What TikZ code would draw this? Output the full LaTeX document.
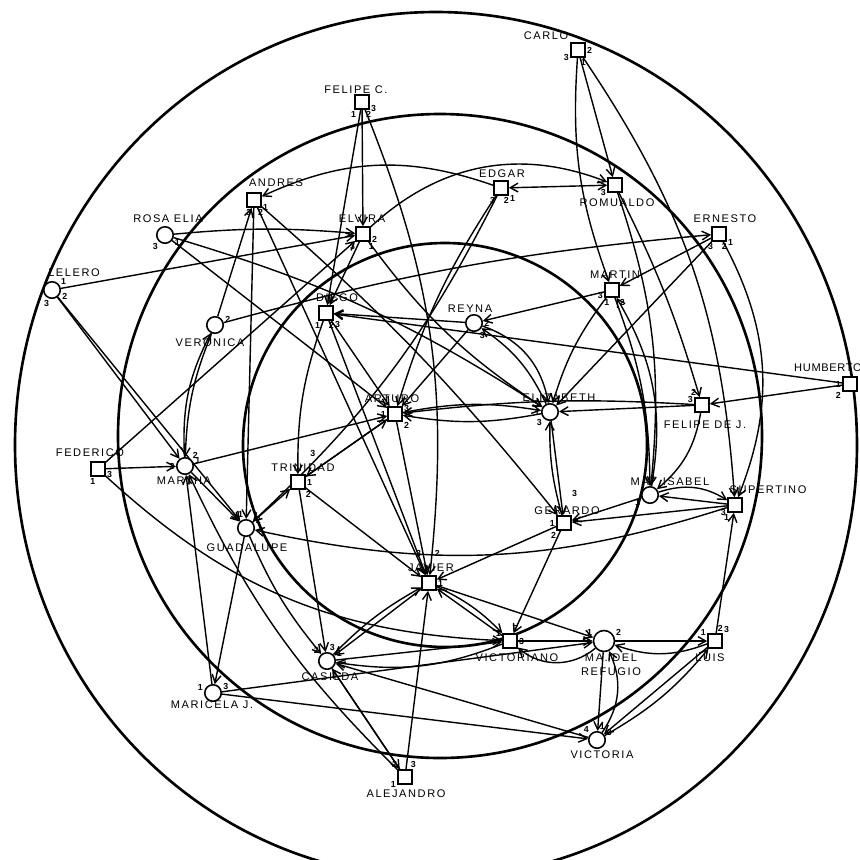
\documentclass[tikz,border=0pt]{standalone}
\usepackage{fontspec}
\newfontfamily\hand[LetterSpace=14]{Liberation Sans}
\newfontfamily\handtight[LetterSpace=6]{Liberation Sans}
\usetikzlibrary{arrows.meta,backgrounds}
\newcommand{\labfont}{\hand\fontsize{6.3}{7}\selectfont}
\newcommand{\numfont}{\hand\bfseries\fontsize{5}{5}\selectfont}
\tikzset{
  sq/.style={draw, line width=0.9pt, rectangle, minimum size=0.28cm, inner sep=0pt, fill=white},
  ci/.style={draw, line width=0.9pt, circle, minimum size=0.33cm, inner sep=0pt, fill=white},
  lab/.style={font=\labfont, inner sep=0pt, align=center},
  num/.style={font=\numfont, inner sep=0.6pt},
  ed/.style={line width=0.8pt, -{Straight Barb[length=4.5pt,width=5pt]}},
  ring/.style={line width=1.5pt},
}
\begin{document}
\begin{tikzpicture}[x=0.02cm,y=-0.02cm,label distance=0pt]
\useasboundingbox (0,0) rectangle (860,860);
\clip (0,0) rectangle (860,860);

% nodes
\node[sq,label={[num]200:3},label={[num]0:2},label={[num]-80:1}] (ca) at (578,50) {};
\node[sq,label={[num]-120:1},label={[num]-70:2},label={[num]-15:3}] (fc) at (362,102) {};
\node[sq,label={[num]-120:3},label={[num]-80:2},label={[num]-40:1}] (ed) at (501,188) {};
\node[sq,label={[num]200:3}] (ro) at (615,185) {};
\node[sq,label={[num]-20:1},label={[num]-100:3},label={[num]-70:2}] (an) at (254,200) {};
\node[ci,label={[num]-130:3},label={[num]-20:1}] (re) at (165,235) {};
\node[sq,label={[num]-130:3},label={[num]-60:1},label={[num]-10:2}] (el) at (363,234) {};
\node[sq,label={[num]-120:3},label={[num]-80:2},label={[num]-30:1}] (er) at (719,234) {};
\node[ci,label={[num]30:1},label={[num]-10:2},label={[num]-100:3}] (le) at (52,290) {};
\node[sq,label={[num]190:3},label={[num]-100:1},label={[num]-50:2}] (mn) at (612,290) {};
\node[sq,label={[num]-120:1},label={[num]-80:2},label={[num]-40:3}] (di) at (326,313) {};
\node[ci,label={[num]0:2},label={[num]-60:3}] (ry) at (474,323) {};
\node[ci,label={[num]10:2}] (ve) at (215,325) {};
\node[sq,label={[num]180:1},label={[num]-140:2}] (hu) at (850,384) {};
\node[sq,label={[num]180:1},label={[num]-40:2},label={[num]5:3}] (ar) at (395,414) {};
\node[ci,label={[num]180:1},label={[num]-140:3}] (ez) at (550,412) {};
\node[sq,label={[num]170:3},label={[num]120:2}] (fj) at (702,405) {};
\node[sq,label={[num]-10:3},label={[num]-100:1}] (fe) at (98,469) {};
\node[ci,label={[num]180:3},label={[num]10:1},label={[num]45:2}] (mt) at (185,466) {};
\node[sq,label={[num]0:1},label={[num]-50:2},label={[label distance=10pt,num]65:3}] (tr) at (298,482) {};
\node[ci,label={[num]200:1}] (is) at (650,495) {};
\node[sq,label={[num]200:3},label={[num]-120:1}] (su) at (735,505) {};
\node[ci,label={[num]100:1},label={[num]20:2},label={[num]140:3}] (gu) at (246,528) {};
\node[sq,label={[num]180:1},label={[label distance=10pt,num]75:3},label={[num]-130:2}] (ge) at (564,523) {};
\node[sq,label={[num]0:1},label={[label distance=10pt,num]80:2},label={[label distance=10pt,num]105:3}] (ja) at (429,583) {};
\node[ci,label={[num]140:2},label={[num]80:3},label={[num]20:1}] (cs) at (327,661) {};
\node[sq,label={[num]160:1},label={[num]80:2},label={[num]0:3}] (vo) at (510,641) {};
\node[ci,minimum width=0.42cm,minimum height=0.3cm,label={[num]160:1},label={[num]20:2}] (rf) at (604,641) {};
\node[sq,label={[num]150:1},label={[num]80:2},label={[num]40:3}] (lu) at (715,641) {};
\node[ci,label={[num]170:1},label={[num]10:3}] (mj) at (213,693) {};
\node[ci,label={[num]140:4},label={[num]80:1},label={[num]20:3}] (vi) at (597,740) {};
\node[sq,label={[num]130:2},label={[num]60:3},label={[num]200:1}] (al) at (405,777) {};

% labels
\node[lab] (ca-l) at (546,36) {CARLO};
\node[lab] (fc-l) at (356,90) {FELIPE C.};
\node[lab] (ed-l) at (502,174) {EDGAR};
\node[lab] (ro-l) at (617,203) {ROMUALDO};
\node[lab] (an-l) at (276,183) {ANDRES};
\node[lab] (re-l) at (168,219) {ROSA ELIA};
\node[lab] (el-l) at (362,219) {ELVIRA};
\node[lab] (er-l) at (725,219) {ERNESTO};
\node[lab] (le-l) at (74,273) {LELERO};
\node[lab] (mn-l) at (615,275) {MARTIN};
\node[lab] (di-l) at (337,298) {DIEGO};
\node[lab] (ry-l) at (470,309) {REYNA};
\node[lab] (ve-l) at (210,343) {VERONICA};
\node[lab,font=\handtight\fontsize{6.3}{7}\selectfont] (hu-l) at (828,368) {HUMBERTO};
\node[lab] (ar-l) at (392,399) {ARTURO};
\node[lab] (ez-l) at (559,398) {ELIZABETH};
\node[lab] (fj-l) at (705,425) {FELIPE DE J.};
\node[lab] (fe-l) at (90,453) {FEDERICO};
\node[lab] (mt-l) at (184,481) {MARTHA};
\node[lab] (tr-l) at (303,468) {TRINIDAD};
\node[lab] (is-l) at (670,482) {MA.\ \ ISABEL};
\node[lab] (su-l) at (768,490) {SUPERTINO};
\node[lab] (gu-l) at (247,548) {GUADALUPE};
\node[lab] (ge-l) at (567,511) {GERARDO};
\node[lab] (ja-l) at (431,568) {JAVIER};
\node[lab] (cs-l) at (330,677) {CASILDA};
\node[lab] (vo-l) at (517,658) {VICTORIANO};
\node[lab] (rf-l) at (611,665) {MA. DEL\\[1pt]REFUGIO};
\node[lab] (lu-l) at (710,658) {LUIS};
\node[lab] (mj-l) at (212,705) {MARICELA J.};
\node[lab] (vi-l) at (602,755) {VICTORIA};
\node[lab] (al-l) at (406,794) {ALEJANDRO};

\begin{scope}[on background layer]
% rings
\draw[ring] (436,445) ellipse [x radius=421, y radius=433];
\draw[ring] (440,436) circle [radius=322];
\draw[ring] (445,445) circle [radius=202];

% connectors
\draw[ed] (ca) -- (ro);
\draw[ed] (ca) to[bend right=12] (mn);
\draw[ed] (ca) to[bend left=15] (su);
\draw[ed] (fc) -- (el);
\draw[ed] (fc) -- (di);
\draw[ed] (fc) to[bend left=14] (ja);
\draw[ed,{Straight Barb[length=4.5pt,width=5pt]}-{Straight Barb[length=4.5pt,width=5pt]}] (ed) -- (ro);
\draw[ed] (ed) to[bend right=22] (an);
\draw[ed] (ed) to[bend right=8] (ar);
\draw[ed] (ed) to[bend left=10] (gu);
\draw[ed] (ro) to[bend left=5] (fj);
\draw[ed] (ro) to[bend left=12] (is);
\draw[ed] (an) -- (gu);
\draw[ed] (an) -- (ja);
\draw[ed] (an) to[bend left=5] (ge);
\draw[ed] (re) to[bend left=5] (el);
\draw[ed] (re) to[bend left=8] (ez);
\draw[ed] (re) -- (ar);
\draw[ed] (el) to[bend left=32] (ro);
\draw[ed] (el) -- (di);
\draw[ed] (el) to[bend right=10] (ez);
\draw[ed] (er) -- (mn);
\draw[ed] (er) to[bend left=25] (su);
\draw[ed] (er) -- (ez);
\draw[ed] (le) -- (el);
\draw[ed] (le) -- (mt);
\draw[ed] (le) -- (gu);
\draw[ed] (mn) to[bend right=10] (ez);
\draw[ed] (mn) to[bend left=10] (is);
\draw[ed] (mn) -- (ry);
\draw[ed] (di) -- (ar);
\draw[ed] (di) -- (ja);
\draw[ed] (di) to[bend right=10] (tr);
\draw[ed] (ry) -- (ar);
\draw[ed] (ry) -- (di);
\draw[ed] (ry) to[bend left=30] (ez);
\draw[ed] (ve) to[bend left=5] (er);
\draw[ed] (ve) -- (an);
\draw[ed] (ve) to[bend right=10] (mt);
\draw[ed] (hu) -- (di);
\draw[ed] (hu) -- (fj);
\draw[ed] (ar) -- (ja);
\draw[ed] (ar) -- (tr);
\draw[ed] (ar) to[bend left=10] (ez);
\draw[ed] (ez) to[bend left=10] (ar);
\draw[ed] (ez) -- (ge);
\draw[ed] (ez) to[bend right=15] (ry);
\draw[ed] (fj) -- (ez);
\draw[ed] (fj) to[bend right=5] (ar);
\draw[ed] (fj) to[bend left=20] (is);
\draw[ed] (fe) -- (mt);
\draw[ed] (fe) -- (el);
\draw[ed] (fe) to[bend right=20] (vo);
\draw[ed] (mt) -- (gu);
\draw[ed] (mt) to[bend left=15] (ve);
\draw[ed] (mt) -- (ar);
\draw[ed] (tr) -- (ja);
\draw[ed] (tr) -- (cs);
\draw[ed] (tr) -- (ar);
\draw[ed] (is) -- (ge);
\draw[ed] (is) to[bend left=25] (su);
\draw[ed] (is) to[bend right=20] (mn);
\draw[ed] (su) -- (ge);
\draw[ed] (su) to[bend left=15] (gu);
\draw[ed] (su) -- (is);
\draw[ed] (gu) -- (tr);
\draw[ed] (gu) to[bend right=8] (cs);
\draw[ed] (gu) -- (mj);
\draw[ed] (ge) -- (ja);
\draw[ed] (ge) to[bend left=8] (ez);
\draw[ed] (ge) -- (vo);
\draw[ed] (ja) -- (cs);
\draw[ed] (ja) to[bend left=10] (vo);
\draw[ed] (ja) -- (rf);
\draw[ed] (cs) to[bend left=8] (ja);
\draw[ed] (cs) -- (al);
\draw[ed] (cs) -- (vo);
\draw[ed] (vo) -- (rf);
\draw[ed] (vo) -- (ja);
\draw[ed] (vo) to[bend left=15] (cs);
\draw[ed] (rf) -- (lu);
\draw[ed] (rf) -- (vi);
\draw[ed] (rf) to[bend left=40] (vo);
\draw[ed] (lu) -- (su);
\draw[ed] (lu) to[bend left=20] (rf);
\draw[ed] (lu) -- (vi);
\draw[ed] (mj) -- (mt);
\draw[ed] (mj) -- (vi);
\draw[ed] (mj) -- (rf);
\draw[ed] (vi) -- (cs);
\draw[ed] (vi) to[bend right=30] (rf);
\draw[ed] (vi) to[bend right=10] (lu);
\draw[ed] (al) -- (cs);
\draw[ed] (al) -- (ja);
\draw[ed] (al) to[bend left=10] (mt);
\end{scope}
\end{tikzpicture}
\end{document}
